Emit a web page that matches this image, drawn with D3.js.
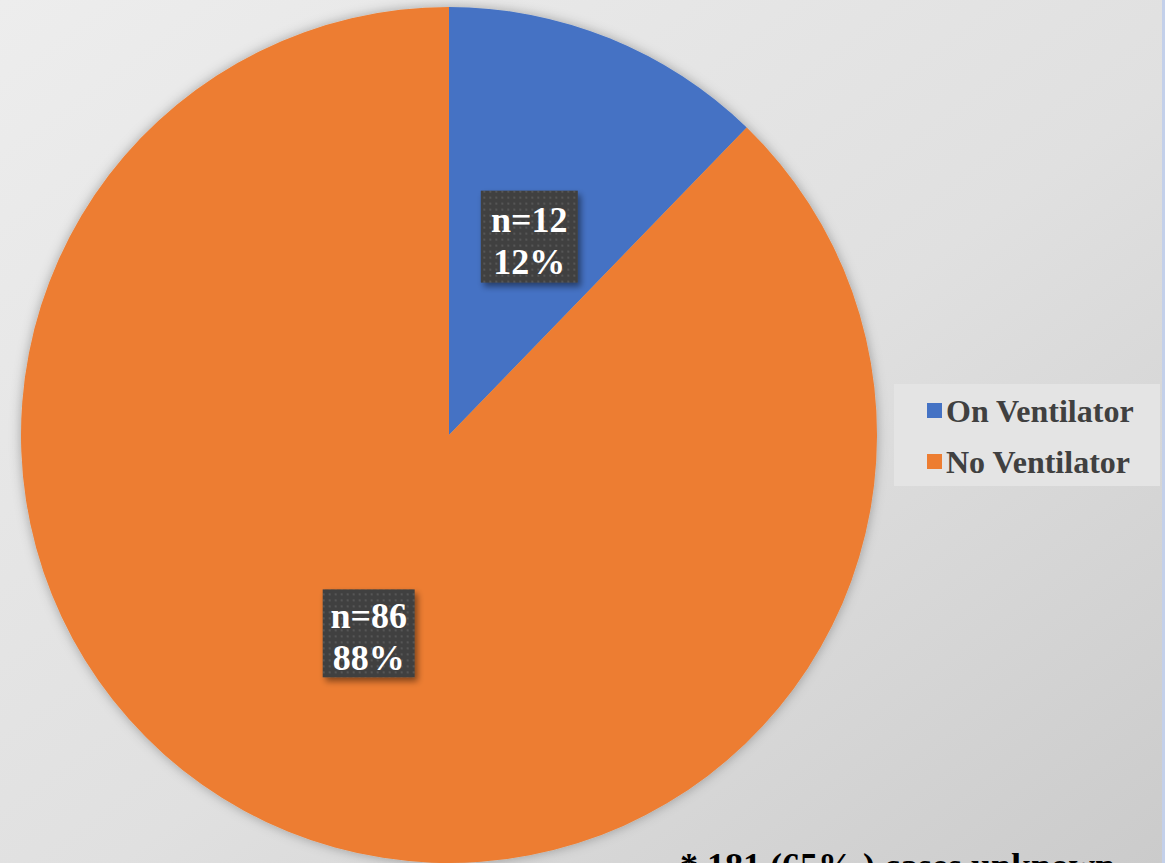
<!DOCTYPE html>
<html>
<head>
<meta charset="utf-8">
<script src="https://cdn.jsdelivr.net/npm/d3@7"></script>
<style>
  body { margin: 0; overflow: hidden; }
  svg { display: block; }
  text { font-family: "Liberation Serif", "Times New Roman", serif; font-weight: bold; }
</style>
</head>
<body>
<svg id="chart" width="1165" height="863"></svg>
<script>
var categories = ["On Ventilator", "No Ventilator"];
var counts = [12, 86];
var percents = ["12%", "88%"];
var colors = ["#4472c4", "#ed7d31"];
var footnote = "* 181 (65% ) cases unknown";

var svg = d3.select("#chart"),
    width = +svg.attr("width"),
    height = +svg.attr("height");

var defs = svg.append("defs");

var bg = defs.append("linearGradient").attr("id", "bg")
    .attr("x1", "0").attr("y1", "0").attr("x2", "1").attr("y2", "1");
bg.append("stop").attr("offset", "0%").attr("stop-color", "#ededed");
bg.append("stop").attr("offset", "55%").attr("stop-color", "#e0e0e0");
bg.append("stop").attr("offset", "100%").attr("stop-color", "#cbcbcb");

var pat = defs.append("pattern").attr("id", "dots")
    .attr("width", 6).attr("height", 6).attr("patternUnits", "userSpaceOnUse");
pat.append("rect").attr("width", 6).attr("height", 6).attr("fill", "#404040");
pat.append("rect").attr("x", 2).attr("y", 2).attr("width", 2).attr("height", 2).attr("fill", "#575757");

var shadow = defs.append("filter").attr("id", "shadow")
    .attr("x", "-20%").attr("y", "-20%").attr("width", "150%").attr("height", "150%");
shadow.append("feDropShadow").attr("dx", 3).attr("dy", 4).attr("stdDeviation", 3)
    .attr("flood-color", "#000").attr("flood-opacity", 0.45);

var pieShadow = defs.append("filter").attr("id", "pieShadow")
    .attr("x", "-10%").attr("y", "-10%").attr("width", "120%").attr("height", "120%");
pieShadow.append("feDropShadow").attr("dx", 0).attr("dy", 0).attr("stdDeviation", 6)
    .attr("flood-color", "#000").attr("flood-opacity", 0.3);

svg.append("rect").attr("width", width).attr("height", height).attr("fill", "url(#bg)");
svg.append("rect").attr("x", width - 3).attr("width", 3).attr("height", height).attr("fill", "#c3d0ea");

var cx = 449, cy = 435, radius = 428;

var pie = d3.pie().sort(null).value(function(d) { return d; });
var arc = d3.arc().innerRadius(0).outerRadius(radius);
var arcs = pie(counts);

var g = svg.append("g").attr("transform", "translate(" + cx + "," + cy + ")");

g.append("g").attr("filter", "url(#pieShadow)")
    .selectAll("path")
    .data(arcs)
    .enter().append("path")
    .attr("d", arc)
    .attr("fill", function(d, i) { return colors[i]; });

// data labels at the slice centroids
var labelArc = d3.arc().innerRadius(radius * 0.5).outerRadius(radius * 0.5);
var boxW = [97, 92], boxH = [92, 88];

var labels = g.selectAll(".lbl")
    .data(arcs)
    .enter().append("g")
    .attr("class", "lbl")
    .attr("transform", function(d) {
        var c = labelArc.centroid(d);
        return "translate(" + c[0] + "," + c[1] + ")";
    });

labels.append("rect")
    .attr("x", function(d, i) { return -boxW[i] / 2; })
    .attr("y", function(d, i) { return -boxH[i] / 2; })
    .attr("width", function(d, i) { return boxW[i]; })
    .attr("height", function(d, i) { return boxH[i]; })
    .attr("fill", "url(#dots)")
    .attr("filter", "url(#shadow)");

labels.append("text")
    .attr("text-anchor", "middle")
    .attr("y", -5)
    .attr("font-size", 36)
    .attr("fill", "#fff")
    .text(function(d, i) { return "n=" + counts[i]; });

labels.append("text")
    .attr("text-anchor", "middle")
    .attr("y", 37)
    .attr("font-size", 36)
    .attr("fill", "#fff")
    .text(function(d, i) { return percents[i]; });

// legend
var legend = svg.append("g").attr("transform", "translate(894,384)");
legend.append("rect").attr("width", 266).attr("height", 102).attr("fill", "#e4e4e4");

var item = legend.selectAll(".item")
    .data(categories)
    .enter().append("g")
    .attr("class", "item")
    .attr("transform", function(d, i) { return "translate(0," + (i * 51) + ")"; });

item.append("rect")
    .attr("x", 33).attr("y", 19)
    .attr("width", 15).attr("height", 15)
    .attr("fill", function(d, i) { return colors[i]; });

item.append("text")
    .attr("x", 52).attr("y", 38)
    .attr("font-size", 32)
    .attr("fill", "#404040")
    .text(function(d) { return d; });

svg.append("text")
    .attr("x", 680).attr("y", 878)
    .attr("font-size", 36)
    .attr("fill", "#000")
    .text(footnote);
</script>
</body>
</html>
